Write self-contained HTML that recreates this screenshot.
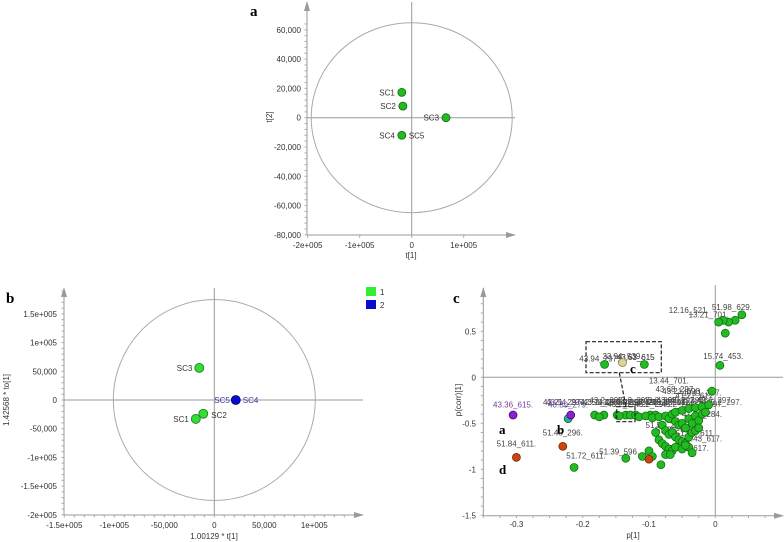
<!DOCTYPE html>
<html><head><meta charset="utf-8">
<style>
html,body{margin:0;padding:0;background:#fff;}
svg{display:block;font-family:"Liberation Sans",sans-serif;}
.tk{font-size:8px;fill:#333;}
.lb{font-size:8px;fill:#333;}
.pl{font-family:"Liberation Serif",serif;font-weight:bold;font-size:15px;fill:#000;}
</style></head>
<body>
<svg id="fig" width="784" height="542" viewBox="0 0 784 542" xmlns="http://www.w3.org/2000/svg">
<defs>
<marker id="ar" markerWidth="10" markerHeight="8" refX="9" refY="4" orient="auto"><path d="M0,1 L10,4 L0,7 Z" fill="#999"/></marker>
</defs>
<g id="pa"></g>
<g id="pb"></g>
<g id="pc"></g>
</svg>
<script>
// ---- Panel a data ----
const aNames = ["SC1","SC2","SC3","SC4"];
const aX = [-19000,-17000,66000,-19000];
const aY = [17300,7900,0,-12000];
const aLabels = ["SC1","SC2","SC3","SC4"];
const aXTicks = [-200000,-100000,0,100000];
const aXTickLabels = ["-2e+005","-1e+005","0","1e+005"];
const aYTicks = [60000,40000,20000,0,-20000,-40000,-60000,-80000];
const aYTickLabels = ["60,000","40,000","20,000","0","-20,000","-40,000","-60,000","-80,000"];
// ---- Panel b data ----
const bNames = ["SC3","SC2","SC1","SC4"];
const bX = [-15000,-11000,-18500,21500];
const bY = [56000,-24000,-33000,0];
const bGroup = [1,1,1,2];
const bXTicks = [-150000,-100000,-50000,0,50000,100000];
const bXTickLabels = ["-1.5e+005","-1e+005","-50,000","0","50,000","1e+005"];
const bYTicks = [150000,100000,50000,0,-50000,-100000,-150000,-200000];
const bYTickLabels = ["1.5e+005","1e+005","50,000","0","-50,000","-1e+005","-1.5e+005","-2e+005"];
// ---- Panel c data ----
const cXTicks = [-0.3,-0.2,-0.1,0];
const cXTickLabels = ["-0.3","-0.2","-0.1","0"];
const cYTicks = [0.5,0,-0.5,-1,-1.5];
const cYTickLabels = ["0.5","0","-0.5","-1","-1.5"];
const cGreenP = [0.04,0.03,0.02,0.012,0.005,0.015,0.007,-0.167,-0.107,-0.182,-0.168,-0.148,-0.135,-0.128,-0.098,-0.09,-0.175,-0.145,-0.12,-0.115,-0.105,-0.095,-0.085,-0.075,-0.07,-0.065,-0.06,-0.05,-0.04,-0.03,-0.02,-0.01,-0.005,-0.06,-0.055,-0.05,-0.045,-0.04,-0.035,-0.03,-0.025,-0.02,-0.015,-0.08,-0.075,-0.07,-0.065,-0.06,-0.055,-0.05,-0.045,-0.04,-0.035,-0.03,-0.025,-0.09,-0.085,-0.08,-0.075,-0.07,-0.065,-0.06,-0.05,-0.04,-0.035,-0.045,-0.135,-0.11,-0.1,-0.095,-0.082,-0.075,-0.068,-0.213];
const cGreenC = [0.68,0.62,0.6,0.62,0.6,0.48,0.13,0.14,0.14,-0.41,-0.41,-0.41,-0.41,-0.41,-0.41,-0.41,-0.43,-0.42,-0.41,-0.43,-0.42,-0.44,-0.43,-0.42,-0.45,-0.4,-0.38,-0.36,-0.34,-0.33,-0.32,-0.3,-0.15,-0.48,-0.52,-0.5,-0.55,-0.45,-0.5,-0.42,-0.47,-0.4,-0.38,-0.52,-0.58,-0.62,-0.6,-0.65,-0.68,-0.7,-0.72,-0.65,-0.6,-0.58,-0.55,-0.6,-0.68,-0.72,-0.75,-0.78,-0.8,-0.76,-0.78,-0.76,-0.82,-0.74,-0.88,-0.86,-0.8,-0.86,-0.95,-0.84,-0.84,-0.98];
const cSpecialP = [-0.305,-0.222,-0.218,-0.3,-0.23,-0.1,-0.14];
const cSpecialC = [-0.41,-0.45,-0.41,-0.87,-0.75,-0.89,0.16];
const cSpecialKind = ["purple","teal","purple","orange","orange","orange","beige"];
const cTextP = [-0.305,-0.225,-0.222,-0.3,-0.23,-0.195,-0.145,-0.175,-0.12,0.012,-0.04,0.025,-0.01,-0.14,-0.12,-0.07,-0.06,-0.05,-0.02,-0.03,-0.075,-0.06,-0.03,-0.02,-0.02,-0.04,-0.2,-0.17,-0.13,-0.1,-0.08,-0.05];
const cTextC = [-0.33,-0.3,-0.33,-0.75,-0.63,-0.88,-0.84,0.17,0.19,0.2,0.7,0.73,0.65,0.2,0.19,-0.07,-0.16,-0.18,-0.2,-0.23,-0.55,-0.6,-0.64,-0.7,-0.43,-0.8,-0.3,-0.3,-0.3,-0.3,-0.3,-0.28];
const cTextStr = ["43.36_615.","43.54_297.","40.89_279.","51.84_611.","51.45_296.","51.72_611.","51.39_596.","43.94_297.","43.63_615","15.74_453.","12.16_521.","51.98_629.","13.21_701.","33.94_539.","43.63_615","13.44_701.","43.68_297.","43.21_598.","40.11_297.","41.27_617.","51.57_296.","51.99_611.","51.57_611.","51.43_617.","41.84_284.","51.28_617.","43.21_297.43.11_279.","42.51_296.4","43.44_298.43","42.57_279.43.","43.21_297.41.","43.68_297.42."];
const cTextColor = ["#7a3a9a","#7a3a9a","#5a5a9a","#444","#444","#444","#444","#444","#444","#444","#444","#444","#444","#444","#444","#444","#444","#444","#444","#444","#444","#444","#444","#444","#444","#444","#444","#444","#444","#444","#444","#444"];

const NS="http://www.w3.org/2000/svg";
function mk(parent,tag,attrs,text){const e=document.createElementNS(NS,tag);for(const k in attrs)e.setAttribute(k,attrs[k]);if(text!==undefined)e.textContent=text;parent.appendChild(e);return e;}

// ===== Panel a =====
(function(){
const g=document.getElementById('pa');
const ax=v=>411.7+v/100000*52;
const ay=v=>117.7-v/20000*29.3;
const xl=mk(g,'line',{x1:307,y1:235,x2:515,y2:235,stroke:'#999','marker-end':'url(#ar)'});


const yl=mk(g,'line',{x1:307,y1:235,x2:307,y2:2,stroke:'#999','marker-end':'url(#ar)'});


for(let v=-80000;v<=65000;v+=4000){mk(g,'line',{x1:304.5,y1:ay(v),x2:307,y2:ay(v),stroke:'#aaa'});}
mk(g,'line',{x1:ax(0),y1:2,x2:ax(0),y2:235,stroke:'#999'});
mk(g,'line',{x1:307,y1:ay(0),x2:515,y2:ay(0),stroke:'#999'});
const c=mk(g,'ellipse',{cx:ax(0),cy:ay(0),rx:100.5,ry:95,fill:'none',stroke:'#aaa'});


aYTicks.forEach((v,i)=>{const t=mk(g,'text',{class:'tk',x:301,y:ay(v)+3,'text-anchor':'end'},aYTickLabels[i]);

});
aXTicks.forEach((v,i)=>{mk(g,'line',{x1:ax(v),y1:235,x2:ax(v),y2:238,stroke:'#aaa'});const t=mk(g,'text',{class:'tk',x:ax(v),y:248,'text-anchor':'middle'},aXTickLabels[i]);

});
aX.forEach((v,i)=>{const p=mk(g,'circle',{cx:ax(v),cy:ay(aY[i]),r:4,fill:'#22bb22',stroke:'#116611','stroke-width':0.8});


const t=mk(g,'text',{class:'lb',x:ax(v)-7,y:ay(aY[i])+3,'text-anchor':'end'},aLabels[i]);

});
const s5=mk(g,'text',{class:'lb',x:ax(aX[3])+7,y:ay(aY[3])+3},'SC5');


const yt=mk(g,'text',{class:'tk',transform:'translate(272,117) rotate(-90)','text-anchor':'middle'},'t[2]');


const xt=mk(g,'text',{class:'tk',x:411,y:258,'text-anchor':'middle'},'t[1]');


const pl=mk(g,'text',{class:'pl',x:250,y:16},'a');


})();

// ===== Panel b =====
(function(){
const g=document.getElementById('pb');
const bx=v=>214.3+v/50000*50;
const by=v=>400-v/50000*28.7;
const xl=mk(g,'line',{x1:64,y1:515,x2:363,y2:515,stroke:'#999','marker-end':'url(#ar)'});


const yl=mk(g,'line',{x1:64,y1:515,x2:64,y2:288,stroke:'#999','marker-end':'url(#ar)'});


for(let v=-200000;v<=190000;v+=10000){mk(g,'line',{x1:61.5,y1:by(v),x2:64,y2:by(v),stroke:'#aaa'});}
for(let v=-150000;v<=140000;v+=10000){mk(g,'line',{x1:bx(v),y1:515,x2:bx(v),y2:517.5,stroke:'#aaa'});}
mk(g,'line',{x1:bx(0),y1:288,x2:bx(0),y2:515,stroke:'#999'});
mk(g,'line',{x1:64,y1:by(0),x2:363,y2:by(0),stroke:'#999'});
const c=mk(g,'ellipse',{cx:bx(0),cy:by(0),rx:101,ry:100.5,fill:'none',stroke:'#aaa'});


bYTicks.forEach((v,i)=>{const t=mk(g,'text',{class:'tk',x:57,y:by(v)+3,'text-anchor':'end'},bYTickLabels[i]);

});
bXTicks.forEach((v,i)=>{const t=mk(g,'text',{class:'tk',x:bx(v),y:528,'text-anchor':'middle'},bXTickLabels[i]);

});
bX.forEach((v,i)=>{const blue=bGroup[i]===2;
const p=mk(g,'circle',{cx:bx(v),cy:by(bY[i]),r:4.5,fill:blue?'#0a0acc':'#33dd33',stroke:blue?'#000066':'#227722','stroke-width':0.8});

});
const lbl=[[bx(bX[0])-7,by(bY[0])+3,'end','SC3','#333'],[bx(bX[1])+8,by(bY[1])+4,'start','SC2','#333'],[bx(bX[2])-7,by(bY[2])+3,'end','SC1','#333'],[bx(bX[3])-6,by(bY[3])+3,'end','SC5','#3333aa'],[bx(bX[3])+7,by(bY[3])+3,'start','SC4','#3333aa']];
lbl.forEach(l=>{const t=mk(g,'text',{class:'lb',x:l[0],y:l[1],'text-anchor':l[2],style:'fill:'+l[4]},l[3]);

});
const l1=mk(g,'rect',{x:366,y:287,width:10,height:9,fill:'#33ee33'});


const l2=mk(g,'rect',{x:366,y:300,width:10,height:9,fill:'#0a0acc'});


const t1=mk(g,'text',{class:'tk',x:380,y:295},'1');


const t2=mk(g,'text',{class:'tk',x:380,y:308},'2');


const yt=mk(g,'text',{class:'tk',transform:'translate(9,400) rotate(-90)','text-anchor':'middle'},'1.42568 * to[1]');


const xt=mk(g,'text',{class:'tk',x:214,y:539,'text-anchor':'middle'},'1.00129 * t[1]');


const pl=mk(g,'text',{class:'pl',x:6,y:303},'b');


})();

// ===== Panel c =====
(function(){
const g=document.getElementById('pc');
const cx=v=>715.3+v/0.1*66.3;
const cy=v=>377.3-v/0.5*46;
const xl=mk(g,'line',{x1:483,y1:515.7,x2:783,y2:515.7,stroke:'#999','marker-end':'url(#ar)'});


const yl=mk(g,'line',{x1:483.3,y1:515.7,x2:483.3,y2:288,stroke:'#999','marker-end':'url(#ar)'});


for(let v=-1.5;v<=0.85;v+=0.1){mk(g,'line',{x1:480.8,y1:cy(v),x2:483.3,y2:cy(v),stroke:'#aaa'});}
for(let v=-0.35;v<=0.1;v+=0.025){mk(g,'line',{x1:cx(v),y1:515.7,x2:cx(v),y2:518,stroke:'#aaa'});}
mk(g,'line',{x1:cx(0),y1:285,x2:cx(0),y2:515.7,stroke:'#999'});
mk(g,'line',{x1:483.3,y1:cy(0),x2:783,y2:cy(0),stroke:'#999'});
cYTicks.forEach((v,i)=>{const t=mk(g,'text',{class:'tk',x:476,y:cy(v)+3,'text-anchor':'end'},cYTickLabels[i]);

});
cXTicks.forEach((v,i)=>{const t=mk(g,'text',{class:'tk',x:cx(v),y:527,'text-anchor':'middle'},cXTickLabels[i]);

});
for(let k=0;k<14;k++){const t=mk(g,'text',{class:'lb',x:cx(-0.19)+k*9,y:cy(-0.3)+((k%3)-1)*2,style:'fill:#555'},'43.2_297.');

}
cTextStr.forEach((s,i)=>{const t=mk(g,'text',{class:'lb',x:cx(cTextP[i]),y:cy(cTextC[i]),'text-anchor':'middle',style:'fill:'+cTextColor[i]},s);

});
cGreenP.forEach((v,i)=>{const p=mk(g,'circle',{cx:cx(v),cy:cy(cGreenC[i]),r:4,fill:'#22bb22',stroke:'#116611','stroke-width':0.7});

});
const col={purple:['#8822cc','#440066'],teal:['#33aa99','#115544'],orange:['#cc4411','#662200'],beige:['#ddd399','#887744']};
cSpecialP.forEach((v,i)=>{const k=cSpecialKind[i];const p=mk(g,'circle',{cx:cx(v),cy:cy(cSpecialC[i]),r:4,fill:col[k][0],stroke:col[k][1],'stroke-width':0.7});

});
const b1=mk(g,'rect',{x:586,y:341.7,width:75.3,height:31,fill:'none',stroke:'#222','stroke-dasharray':'4,2','stroke-width':1.2});


const b2=mk(g,'rect',{x:616.7,y:406.7,width:18.3,height:15,fill:'none',stroke:'#222','stroke-dasharray':'4,2','stroke-width':1.2});


const dl=mk(g,'line',{x1:619.3,y1:372.7,x2:626,y2:406.7,stroke:'#222','stroke-dasharray':'4,2','stroke-width':1.2});


[['a',499,434],['b',557,434],['c',630,373],['d',499,474]].forEach(a=>{const t=mk(g,'text',{class:'pl',x:a[1],y:a[2],style:'font-size:13px'},a[0]);

});
const yt=mk(g,'text',{class:'tk',transform:'translate(461,400) rotate(-90)','text-anchor':'middle'},'p(corr)[1]');


const xt=mk(g,'text',{class:'tk',x:633,y:538,'text-anchor':'middle'},'p[1]');


const pl=mk(g,'text',{class:'pl',x:453,y:303},'c');


})();
</script>
</body></html>
